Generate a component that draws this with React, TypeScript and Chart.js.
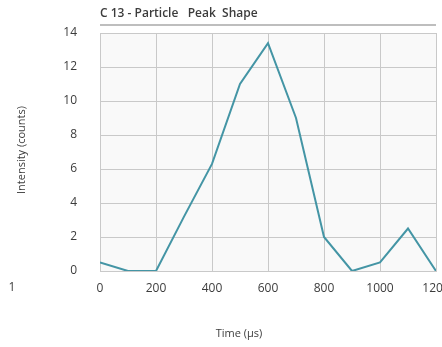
import React, { useEffect, useRef } from "react";
import { Chart, registerables } from "chart.js";

Chart.register(...registerables);

const timeValues = [0, 100, 200, 300, 400, 500, 600, 700, 800, 900, 1000, 1100, 1200];
const intensityValues = [0.5, 0, 0, 3.2, 6.3, 11, 13.4, 9, 2, 0, 0.5, 2.5, 0];
const chartTitle = "C 13 - Particle   Peak  Shape";
const xTitle = "Time (µs)";
const yTitle = "Intensity (counts)";
const strayLabel = "1";

const FONT = "'Open Sans', 'Noto Sans', sans-serif";
const TEXT = "#3c3c3c";

const decorPlugin = {
  id: "decor",
  beforeDraw(chart: any) {
    const { ctx, chartArea } = chart;
    ctx.save();
    ctx.fillStyle = "#f9f9f9";
    ctx.fillRect(chartArea.left, chartArea.top, chartArea.right - chartArea.left, chartArea.bottom - chartArea.top);
    ctx.restore();
  },
  afterDraw(chart: any) {
    const { ctx, chartArea } = chart;
    ctx.save();
    ctx.fillStyle = TEXT;
    ctx.font = `600 12px ${FONT}`;
    ctx.textAlign = "left";
    ctx.textBaseline = "middle";
    ctx.fillText(chartTitle, chartArea.left, 14);
    ctx.strokeStyle = "#a8a8a8";
    ctx.lineWidth = 1.5;
    ctx.beginPath();
    ctx.moveTo(chartArea.left, 25);
    ctx.lineTo(chartArea.right, 25);
    ctx.stroke();
    ctx.font = `11px ${FONT}`;
    ctx.textAlign = "center";
    ctx.fillText(xTitle, 239, 334);
    ctx.save();
    ctx.translate(22, 150);
    ctx.rotate(-Math.PI / 2);
    ctx.fillText(yTitle, 0, 0);
    ctx.restore();
    ctx.font = `12px ${FONT}`;
    ctx.fillText(strayLabel, 12, 288);
    ctx.restore();
  },
};

export default function App() {
  const ref = useRef<HTMLCanvasElement | null>(null);
  useEffect(() => {
    document.body.style.margin = "0";
    const chart = new Chart(ref.current as HTMLCanvasElement, {
      type: "line",
      data: {
        datasets: [
          {
            data: timeValues.map((t, i) => ({ x: t, y: intensityValues[i] })),
            borderColor: "#4495a5",
            borderWidth: 2,
            pointRadius: 0,
            tension: 0,
            fill: false,
          },
        ],
      },
      options: {
        animation: false,
        responsive: false,
        layout: { padding: { top: 33, left: 0, right: 6, bottom: 0 } },
        plugins: { legend: { display: false }, tooltip: { enabled: false }, title: { display: false } },
        scales: {
          x: {
            type: "linear",
            min: 0,
            max: 1200,
            ticks: {
              stepSize: 200,
              padding: 10,
              color: TEXT,
              font: { family: FONT, size: 12 },
              maxRotation: 0,
              callback: (v: any) => String(v),
            },
            grid: { color: "#c9c9c9", drawTicks: false, lineWidth: 1 },
            border: { color: "#c9c9c9" },
            afterFit: (s: any) => {
              s.height = 76;
              s.paddingRight = 0;
              s.paddingLeft = 0;
            },
          },
          y: {
            min: 0,
            max: 14,
            ticks: { stepSize: 2, padding: 23, color: TEXT, font: { family: FONT, size: 12 } },
            grid: { color: "#c9c9c9", drawTicks: false, lineWidth: 1 },
            border: { color: "#c9c9c9" },
            afterFit: (s: any) => {
              s.width = 100;
              s.paddingTop = 0;
              s.paddingBottom = 0;
            },
          },
        },
      },
      plugins: [decorPlugin],
    });
    return () => chart.destroy();
  }, []);
  return <canvas ref={ref} width={442} height={347} style={{ display: "block" }} />;
}
